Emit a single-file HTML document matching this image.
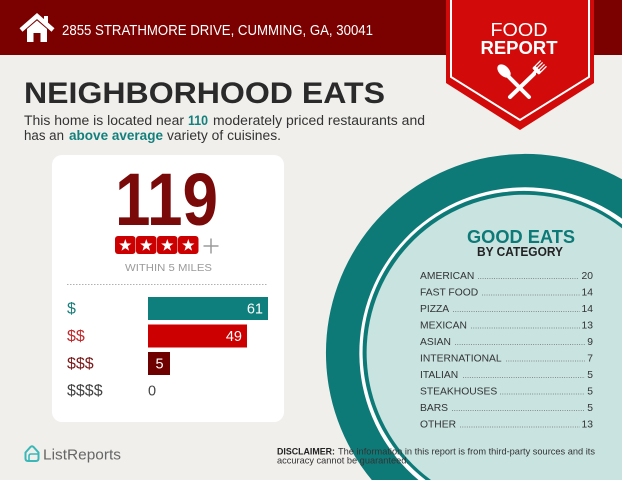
<!DOCTYPE html>
<html>
<head>
<meta charset="utf-8">
<style>
  html, body { margin:0; padding:0; background:#f1efec; width:622px; height:480px; overflow:hidden; }
  svg { display:block; overflow:hidden; }
  text { font-family: "Liberation Sans", sans-serif; }
</style>
</head>
<body>
<svg width="622" height="480" viewBox="0 0 622 480" xmlns="http://www.w3.org/2000/svg">
  <!-- background -->
  <rect x="0" y="0" width="622" height="480" fill="#f1efec"/>

  <!-- header bar -->
  <rect x="0" y="0" width="622" height="55" fill="#7b0000"/>

  <!-- house icon -->
  <polyline points="21,30 37,16 53,30" fill="none" stroke="#fff" stroke-width="4.5" stroke-linejoin="miter"/>
  <rect x="44" y="16" width="4" height="9" fill="#fff"/>
  <path d="M27,29 L37,20.5 L47,29 L47,42 L40.5,42 L40.5,33 L33.5,33 L33.5,42 L27,42 Z" fill="#fff"/>

  <!-- address -->
  <text x="62" y="35" font-size="14.5" fill="#ffffff" textLength="311" lengthAdjust="spacingAndGlyphs">2855 STRATHMORE DRIVE, CUMMING, GA, 30041</text>

  <!-- banner -->
  <polygon points="446,0 594,0 594,83 520,130 446,83" fill="#d20a0a"/>
  <polyline points="451,0 451,77 520,120 589,77 589,0" fill="none" stroke="#ffffff" stroke-width="2"/>
  <text x="519" y="36" font-size="18" fill="#ffffff" text-anchor="middle" textLength="57" lengthAdjust="spacingAndGlyphs">FOOD</text>
  <text x="519" y="54" font-size="18" font-weight="bold" fill="#ffffff" text-anchor="middle" textLength="77" lengthAdjust="spacingAndGlyphs">REPORT</text>

  <!-- spoon -->
  <ellipse cx="504" cy="71" rx="5" ry="8" transform="rotate(-45 504 71)" fill="#fff"/>
  <line x1="507" y1="75" x2="529" y2="97" stroke="#fff" stroke-width="4" stroke-linecap="round"/>
  <!-- fork -->
  <line x1="534" y1="74" x2="510" y2="97" stroke="#fff" stroke-width="4" stroke-linecap="round"/>
  <g transform="translate(536.5 70.5) rotate(45)">
    <rect x="-4.8" y="-2.5" width="9.6" height="4" rx="1.5" fill="#fff"/>
    <rect x="-1.6" y="0" width="3.2" height="4" fill="#fff"/>
    <line x1="-4.1" y1="-2" x2="-4.1" y2="-10" stroke="#fff" stroke-width="1.3"/>
    <line x1="-1.4" y1="-2" x2="-1.4" y2="-10" stroke="#fff" stroke-width="1.3"/>
    <line x1="1.4" y1="-2" x2="1.4" y2="-10" stroke="#fff" stroke-width="1.3"/>
    <line x1="4.1" y1="-2" x2="4.1" y2="-10" stroke="#fff" stroke-width="1.3"/>
  </g>

  <!-- title -->
  <text x="24" y="103" font-size="30" font-weight="bold" fill="#2a2a2a" textLength="361" lengthAdjust="spacingAndGlyphs">NEIGHBORHOOD EATS</text>

  <!-- paragraph -->
  <text x="24" y="125" font-size="13.5" fill="#333" textLength="160" lengthAdjust="spacingAndGlyphs">This home is located near</text>
  <text x="188" y="125" font-size="13.5" font-weight="bold" fill="#13807d" textLength="20" lengthAdjust="spacingAndGlyphs">110</text>
  <text x="213" y="125" font-size="13.5" fill="#333" textLength="212" lengthAdjust="spacingAndGlyphs">moderately priced restaurants and</text>
  <text x="24" y="140" font-size="13.5" fill="#333" textLength="40" lengthAdjust="spacingAndGlyphs">has an</text>
  <text x="69" y="140" font-size="13.5" font-weight="bold" fill="#13807d" textLength="94" lengthAdjust="spacingAndGlyphs">above average</text>
  <text x="167" y="140" font-size="13.5" fill="#333" textLength="114" lengthAdjust="spacingAndGlyphs">variety of cuisines.</text>

  <!-- card -->
  <rect x="52" y="155" width="232" height="267" rx="10" ry="10" fill="#ffffff"/>

  <text x="115" y="225" font-size="74" font-weight="bold" fill="#7a0909" textLength="103" lengthAdjust="spacingAndGlyphs">119</text>

  <!-- stars -->
  <g fill="#cc0000">
    <rect x="115" y="236" width="20.5" height="18" rx="3"/>
    <rect x="136" y="236" width="20.5" height="18" rx="3"/>
    <rect x="157" y="236" width="20.5" height="18" rx="3"/>
    <rect x="178" y="236" width="20.5" height="18" rx="3"/>
  </g>
  <g fill="#ffffff">
    <polygon transform="translate(125.3 245.5)" points="0,-6.5 1.53,-2.1 6.18,-2.01 2.47,0.8 3.82,5.26 0,2.6 -3.82,5.26 -2.47,0.8 -6.18,-2.01 -1.53,-2.1"/>
    <polygon transform="translate(146.3 245.5)" points="0,-6.5 1.53,-2.1 6.18,-2.01 2.47,0.8 3.82,5.26 0,2.6 -3.82,5.26 -2.47,0.8 -6.18,-2.01 -1.53,-2.1"/>
    <polygon transform="translate(167.3 245.5)" points="0,-6.5 1.53,-2.1 6.18,-2.01 2.47,0.8 3.82,5.26 0,2.6 -3.82,5.26 -2.47,0.8 -6.18,-2.01 -1.53,-2.1"/>
    <polygon transform="translate(188.3 245.5)" points="0,-6.5 1.53,-2.1 6.18,-2.01 2.47,0.8 3.82,5.26 0,2.6 -3.82,5.26 -2.47,0.8 -6.18,-2.01 -1.53,-2.1"/>
  </g>
  <line x1="203.5" y1="246" x2="218.5" y2="246" stroke="#9a9a9a" stroke-width="1.5"/>
  <line x1="211" y1="238.5" x2="211" y2="253.5" stroke="#9a9a9a" stroke-width="1.5"/>

  <text x="125" y="271" font-size="10" fill="#9a9a9a" textLength="87" lengthAdjust="spacingAndGlyphs">WITHIN 5 MILES</text>

  <line x1="67" y1="284.5" x2="268" y2="284.5" stroke="#b0b0b0" stroke-width="1" stroke-dasharray="1.5,1.5"/>

  <!-- bars -->
  <rect x="148" y="297" width="120" height="23" fill="#0e7f7c"/>
  <text x="263" y="313.5" font-size="14.5" fill="#ffffff" text-anchor="end">61</text>
  <rect x="148" y="324.5" width="99" height="23" fill="#cc0000"/>
  <text x="242" y="341" font-size="14.5" fill="#ffffff" text-anchor="end">49</text>
  <rect x="148" y="352" width="22" height="23" fill="#6e0000"/>
  <text x="159.5" y="368.5" font-size="14.5" fill="#ffffff" text-anchor="middle">5</text>
  <text x="148" y="395.5" font-size="14.5" fill="#444">0</text>

  <text x="67" y="313.5" font-size="16" fill="#1a7f7c">$</text>
  <text x="67" y="341" font-size="16" fill="#c0282b">$$</text>
  <text x="67" y="368.5" font-size="16" fill="#7a1a1a">$$$</text>
  <text x="67" y="395.5" font-size="16" fill="#444">$$$$</text>

  <!-- ListReports logo -->
  <path d="M25.5,452.5 L30.5,447 Q32,445.5 33.5,447 L38.5,452.5 L38.5,458.5 Q38.5,461 36,461 L28,461 Q25.5,461 25.5,458.5 Z" fill="none" stroke="#3ab8b8" stroke-width="2"/>
  <path d="M29,461 L29,456 Q29,454 31,454 L38,454" fill="none" stroke="#3ab8b8" stroke-width="1.6"/>
  <text x="43" y="459.5" font-size="15" fill="#666" textLength="78" lengthAdjust="spacingAndGlyphs">ListReports</text>

  <!-- plate circle (clipped to frame as paths) -->
  <path d="M371.8,480 A199,199 0 0 1 622,179.2 L622,480 Z" fill="#0e7a78"/>
  <path d="M418.5,480 A165.75,165.75 0 0 1 622,218.6 L622,480 Z" fill="#ffffff"/>
  <path d="M425.6,480 A161.25,161.25 0 0 1 622,224.2 L622,480 Z" fill="#0e7a78"/>
  <path d="M431.0,480 A158,158 0 1 1 622,228.3 L622,480 Z" fill="#c8e3e0"/>

  <text x="467" y="243" font-size="18.5" font-weight="bold" fill="#0e7a78" textLength="108" lengthAdjust="spacingAndGlyphs">GOOD EATS</text>
  <text x="477" y="256" font-size="12.5" font-weight="bold" fill="#222" textLength="86" lengthAdjust="spacingAndGlyphs">BY CATEGORY</text>

  <!-- category list -->
  <g font-size="10.3" fill="#333">
    <text x="420" y="279">AMERICAN</text>
    <text x="420" y="295.5">FAST FOOD</text>
    <text x="420" y="312">PIZZA</text>
    <text x="420" y="328.5">MEXICAN</text>
    <text x="420" y="345">ASIAN</text>
    <text x="420" y="361.5">INTERNATIONAL</text>
    <text x="420" y="378">ITALIAN</text>
    <text x="420" y="394.5">STEAKHOUSES</text>
    <text x="420" y="411">BARS</text>
    <text x="420" y="427.5">OTHER</text>
  </g>
  <g font-size="10.3" fill="#333" text-anchor="end">
    <text x="593" y="279">20</text>
    <text x="593" y="295.5">14</text>
    <text x="593" y="312">14</text>
    <text x="593" y="328.5">13</text>
    <text x="593" y="345">9</text>
    <text x="593" y="361.5">7</text>
    <text x="593" y="378">5</text>
    <text x="593" y="394.5">5</text>
    <text x="593" y="411">5</text>
    <text x="593" y="427.5">13</text>
  </g>
  <g stroke="#666" stroke-width="0.8" stroke-dasharray="0.9,1.4">
    <line x1="478" y1="278.5" x2="579" y2="278.5"/>
    <line x1="482" y1="295" x2="580" y2="295"/>
    <line x1="453" y1="311.5" x2="580" y2="311.5"/>
    <line x1="471" y1="328" x2="580" y2="328"/>
    <line x1="455" y1="344.5" x2="585" y2="344.5"/>
    <line x1="506" y1="361" x2="585" y2="361"/>
    <line x1="463" y1="377.5" x2="585" y2="377.5"/>
    <line x1="500" y1="394" x2="585" y2="394"/>
    <line x1="452" y1="410.5" x2="585" y2="410.5"/>
    <line x1="460" y1="427" x2="580" y2="427"/>
  </g>

  <!-- disclaimer -->
  <text x="277" y="454.5" font-size="9.5" font-weight="bold" fill="#222" textLength="58" lengthAdjust="spacingAndGlyphs">DISCLAIMER:</text>
  <text x="338" y="454.5" font-size="9.5" fill="#333" textLength="257" lengthAdjust="spacingAndGlyphs">The information in this report is from third-party sources and its</text>
  <text x="277" y="463.5" font-size="9.5" fill="#333" textLength="132" lengthAdjust="spacingAndGlyphs">accuracy cannot be guaranteed.</text>
</svg>
</body>
</html>
